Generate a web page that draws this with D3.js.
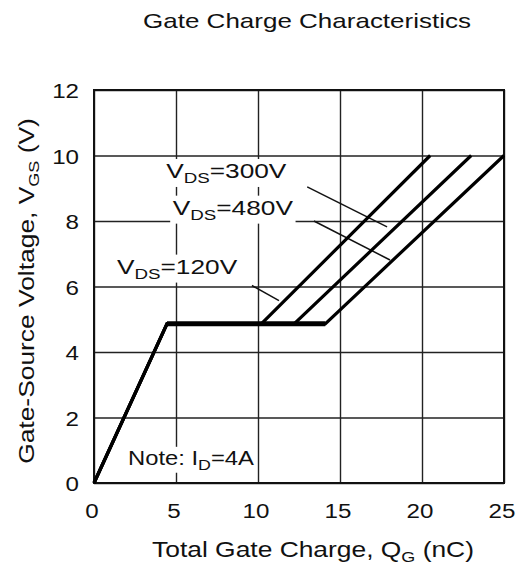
<!DOCTYPE html>
<head>
<meta charset="utf-8">
<script src="https://cdn.jsdelivr.net/npm/d3@7"></script>
<style>
  body { margin: 0; background: #fff; }
  text { font-family: "Liberation Sans", Arial, sans-serif; fill: #111; }
</style>
</head>
<body>
<div id="chart"></div>
<script>
  // values
  var xTicks = [0, 5, 10, 15, 20, 25];
  var yTicks = [0, 2, 4, 6, 8, 10, 12];
  var vdsLabels = ["120V", "300V", "480V"];
  var qg = [
    [0, 4.45, 10.2, 20.5],
    [0, 4.45, 12.2, 23.0],
    [0, 4.45, 14.1, 25.0]
  ];
  var vgs = [
    [0, 4.86, 4.86, 10],
    [0, 4.86, 4.86, 10],
    [0, 4.86, 4.86, 10]
  ];
  // label anchor (x,y) and leader line (x1,y1,x2,y2) in data units
  var labelPos = [[1.4, 6.38], [4.4, 9.3], [4.8, 8.18]];
  var leaders = [[9.63, 6.03, 11.28, 5.57], [13.0, 9.04, 17.87, 7.82], [13.41, 8.0, 18.05, 6.81]];

  var width = 517, height = 567;
  var margin = {left: 94, top: 90, right: 13, bottom: 84};

  var svg = d3.select("#chart").append("svg")
      .attr("width", width)
      .attr("height", height);

  var x = d3.scaleLinear().domain([0, 25]).range([margin.left, width - margin.right]);
  var y = d3.scaleLinear().domain([0, 12]).range([height - margin.bottom, margin.top]);

  // text in the original is wider than Liberation Sans, so stretch it horizontally
  function place(sel, px, py, sx) {
    return sel.attr("transform", "translate(" + px + "," + py + ") scale(" + sx + ",1)");
  }
  function sub(t, a, s, b, big, small) {
    t.style("font-size", big + "px");
    t.append("tspan").text(a);
    t.append("tspan").attr("dy", 5).style("font-size", small + "px").text(s);
    t.append("tspan").attr("dy", -5).text(b);
    return t;
  }

  // grid
  svg.append("g")
    .attr("transform", "translate(0," + y(0) + ")")
    .call(d3.axisBottom(x).tickValues(xTicks).tickSize(-(y(0) - y(12))).tickFormat(""))
    .call(function(g) {
      g.select(".domain").remove();
      g.selectAll("line").attr("stroke", "#222").attr("stroke-width", 1.4);
    });
  svg.append("g")
    .attr("transform", "translate(" + x(0) + ",0)")
    .call(d3.axisLeft(y).tickValues(yTicks).tickSize(-(x(25) - x(0))).tickFormat(""))
    .call(function(g) {
      g.select(".domain").remove();
      g.selectAll("line").attr("stroke", "#222").attr("stroke-width", 1.4);
    });

  // tick labels
  svg.selectAll(".xl").data(xTicks).enter().append("text")
    .attr("transform", function(d) { return "translate(" + (x(d) - 2) + "," + (y(0) + 35) + ") scale(1.15,1)"; })
    .attr("text-anchor", "middle")
    .style("font-size", "21px")
    .text(function(d) { return d; });
  svg.selectAll(".yl").data(yTicks).enter().append("text")
    .attr("transform", function(d) { return "translate(" + (x(0) - 15) + "," + (y(d) + 8) + ") scale(1.15,1)"; })
    .attr("text-anchor", "end")
    .style("font-size", "21px")
    .text(function(d) { return d; });

  // curve labels with white boxes
  var boxed = [];
  vdsLabels.forEach(function(d, i) {
    var t = svg.append("text");
    place(t, x(labelPos[i][0]), y(labelPos[i][1]), 1.25);
    sub(t, "V", "DS", "=" + d, 21, 15);
    boxed.push(t);
  });
  var note = svg.append("text");
  place(note, x(0) + 34, y(0) - 18, 1.19);
  sub(note, "Note: I", "D", "=4A", 20, 15);
  boxed.push(note);

  boxed.forEach(function(t) {
    var b = t.node().getBBox();
    svg.insert("rect", function() { return t.node(); })
      .attr("transform", t.attr("transform"))
      .attr("x", b.x - 2).attr("y", b.y)
      .attr("width", b.width + 4).attr("height", b.height)
      .attr("fill", "#fff");
  });

  // frame
  svg.append("rect")
    .attr("x", x(0)).attr("y", y(12))
    .attr("width", x(25) - x(0)).attr("height", y(0) - y(12))
    .attr("fill", "none").attr("stroke", "#111").attr("stroke-width", 2);

  // leader lines
  svg.selectAll(".leader").data(leaders).enter().append("line")
    .attr("x1", function(d) { return x(d[0]); })
    .attr("y1", function(d) { return y(d[1]); })
    .attr("x2", function(d) { return x(d[2]); })
    .attr("y2", function(d) { return y(d[3]); })
    .attr("stroke", "#111").attr("stroke-width", 1.5);

  // curves
  var line = d3.line()
    .x(function(d) { return x(d[0]); })
    .y(function(d) { return y(d[1]); });
  svg.selectAll(".curve").data(qg).enter().append("path")
    .attr("d", function(d, i) { return line(d.map(function(v, j) { return [v, vgs[i][j]]; })); })
    .attr("fill", "none").attr("stroke", "#000").attr("stroke-width", 3.2)
    .attr("stroke-linejoin", "miter");
  // heavier plateau segment
  svg.append("path")
    .attr("d", line([[qg[0][1], vgs[0][1]], [qg[2][2], vgs[2][2]]]))
    .attr("stroke", "#000").attr("stroke-width", 5);

  // titles
  var title = svg.append("text")
    .attr("text-anchor", "middle")
    .style("font-size", "20px")
    .text("Gate Charge Characteristics");
  place(title, 307, 28, 1.3);

  var xt = svg.append("text").attr("text-anchor", "middle");
  place(xt, 313, 557, 1.2);
  sub(xt, "Total Gate Charge, Q", "G", " (nC)", 22, 15);

  var yt = svg.append("text")
    .attr("text-anchor", "middle")
    .attr("transform", "translate(34,291) rotate(-90) scale(1.2,1)");
  sub(yt, "Gate-Source Voltage, V", "GS", " (V)", 22, 15);
</script>
</body>
</html>
